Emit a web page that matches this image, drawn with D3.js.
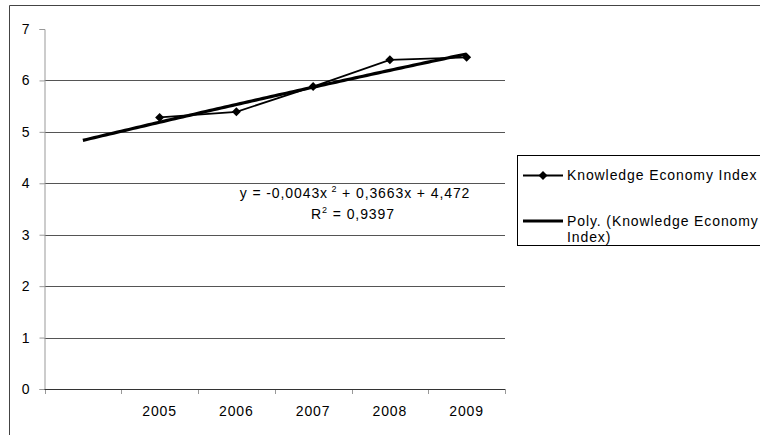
<!DOCTYPE html>
<html>
<head>
<meta charset="utf-8">
<script src="https://cdn.jsdelivr.net/npm/d3@7"></script>
<style>
  html, body { margin: 0; padding: 0; background: #fff; }
  svg { display: block; font-family: "Liberation Sans", Arial, sans-serif; }
  text { letter-spacing: 0.9px; }
</style>
</head>
<body>
<svg id="chart" width="760" height="435"></svg>
<script>
// Category slots along the x axis (the first slot is empty)
const categories = ["", "2005", "2006", "2007", "2008", "2009"];
// Knowledge Economy Index per year
const indexValues = [null, 5.28, 5.39, 5.88, 6.40, 6.45];
// Y axis ticks
const yTicks = [0, 1, 2, 3, 4, 5, 6, 7];
// Polynomial trendline: a*x^2 + b*x + c, x = category number (1..6)
const trendCoefficients = [-0.0043, 0.3663, 4.472];
const trendR2 = "0,9397";
const seriesName = "Knowledge Economy Index";
const trendName = ["Poly. (Knowledge Economy", "Index)"];

const FS = 14;
const svg = d3.select("#chart");

// Plot area
const plot = { left: 44.5, right: 505, top: 29, bottom: 389 };

const x = d3.scaleBand()
  .domain(categories.map((d, i) => i))
  .range([plot.left, plot.right])
  .paddingInner(0).paddingOuter(0);

const y = d3.scaleLinear().domain([0, 7]).range([plot.bottom, plot.top]);

const center = i => x(i) + x.bandwidth() / 2;
// Trendline x (category number) -> pixel
const xTrend = d3.scaleLinear().domain([1, categories.length])
  .range([center(0), center(categories.length - 1)]);

// Outer chart frame (top and left edges visible)
svg.append("path")
  .attr("d", "M9.5,435 L9.5,5.5 L760,5.5")
  .attr("fill", "none").attr("stroke", "#444").attr("stroke-width", 1);

// Horizontal gridlines
svg.append("g").selectAll("line")
  .data(yTicks.filter(t => t > 0 && t < 7))
  .join("line")
  .attr("x1", plot.left).attr("x2", plot.right)
  .attr("y1", d => Math.round(y(d)) + 0.5).attr("y2", d => Math.round(y(d)) + 0.5)
  .attr("stroke", "#555").attr("stroke-width", 1);

// Y axis
const yAxis = d3.axisLeft(y).tickValues(yTicks).tickSize(5).tickPadding(9)
  .tickFormat(d3.format("d"));
const yg = svg.append("g").attr("transform", `translate(${plot.left},0)`).call(yAxis);
yg.select(".domain").attr("stroke", "#999");
yg.selectAll(".tick line").attr("stroke", "#999");
yg.selectAll(".tick text").attr("fill", "#000").attr("font-size", FS)
  .attr("font-family", "'Liberation Sans', Arial, sans-serif");

// X axis: labels centred in each slot, tick marks at slot boundaries
const xAxis = d3.axisBottom(x).tickSize(0).tickPadding(17)
  .tickFormat(i => categories[i]);
const xg = svg.append("g").attr("transform", `translate(0,${plot.bottom})`).call(xAxis);
xg.select(".domain").remove();
xg.selectAll(".tick text").attr("fill", "#000").attr("font-size", FS)
  .attr("font-family", "'Liberation Sans', Arial, sans-serif");

const bounds = categories.map((d, i) => x(i)).concat([x(categories.length - 1) + x.bandwidth()]);
svg.append("g").selectAll("line").data(bounds).join("line")
  .attr("x1", d => Math.round(d) + 0.5).attr("x2", d => Math.round(d) + 0.5)
  .attr("y1", plot.bottom).attr("y2", plot.bottom + 5)
  .attr("stroke", "#999");
svg.append("line")
  .attr("x1", plot.left).attr("x2", plot.right)
  .attr("y1", plot.bottom + 0.5).attr("y2", plot.bottom + 0.5)
  .attr("stroke", "#333");

// Data series line
const pts = indexValues.map((v, i) => ({ i, v })).filter(d => d.v !== null);
svg.append("path")
  .datum(pts)
  .attr("fill", "none").attr("stroke", "#000").attr("stroke-width", 1.8)
  .attr("d", d3.line().x(d => center(d.i)).y(d => y(d.v)));

// Polynomial trendline
const [a, b, c] = trendCoefficients;
const trendX = d3.range(1, categories.length + 0.0001, 0.05);
svg.append("path")
  .datum(trendX)
  .attr("fill", "none").attr("stroke", "#000").attr("stroke-width", 3.2)
  .attr("stroke-linecap", "butt")
  .attr("d", d3.line().x(t => xTrend(t)).y(t => y(a * t * t + b * t + c)));

// Diamond markers
const diamond = "M0,-4.5L4.5,0L0,4.5L-4.5,0Z";
svg.append("g").selectAll("path").data(pts).join("path")
  .attr("d", diamond)
  .attr("transform", d => `translate(${center(d.i)},${y(d.v)})`)
  .attr("fill", "#000");

// Trendline equation
const eq = svg.append("text").attr("x", 355).attr("y", 198)
  .attr("text-anchor", "middle").attr("font-size", FS).attr("fill", "#000");
eq.append("tspan").text(`y = ${String(a).replace(".", ",")}x`);
eq.append("tspan").attr("font-size", 9).attr("dy", -6).text(" 2");
eq.append("tspan").attr("dy", 6).text(`  + ${String(b).replace(".", ",")}x + ${String(c).replace(".", ",")}`);

const r2 = svg.append("text").attr("x", 353).attr("y", 219)
  .attr("text-anchor", "middle").attr("font-size", FS).attr("fill", "#000");
r2.append("tspan").text("R");
r2.append("tspan").attr("font-size", 9).attr("dy", -6).text("2");
r2.append("tspan").attr("dy", 6).text(` = ${trendR2}`);

// Legend
const lg = svg.append("g");
lg.append("rect").attr("x", 517.5).attr("y", 155.5).attr("width", 260).attr("height", 90)
  .attr("fill", "#fff").attr("stroke", "#000").attr("stroke-width", 1);
lg.append("line").attr("x1", 523).attr("x2", 563).attr("y1", 175.5).attr("y2", 175.5)
  .attr("stroke", "#000").attr("stroke-width", 1.8);
lg.append("path").attr("d", diamond).attr("transform", "translate(543,175.5)").attr("fill", "#000");
lg.append("text").attr("x", 567).attr("y", 180).attr("font-size", FS).text(seriesName);
lg.append("line").attr("x1", 523).attr("x2", 563).attr("y1", 221).attr("y2", 221)
  .attr("stroke", "#000").attr("stroke-width", 3.2);
lg.append("text").attr("x", 567).attr("y", 226).attr("font-size", FS).text(trendName[0]);
lg.append("text").attr("x", 567).attr("y", 242).attr("font-size", FS).text(trendName[1]);
</script>
</body>
</html>
